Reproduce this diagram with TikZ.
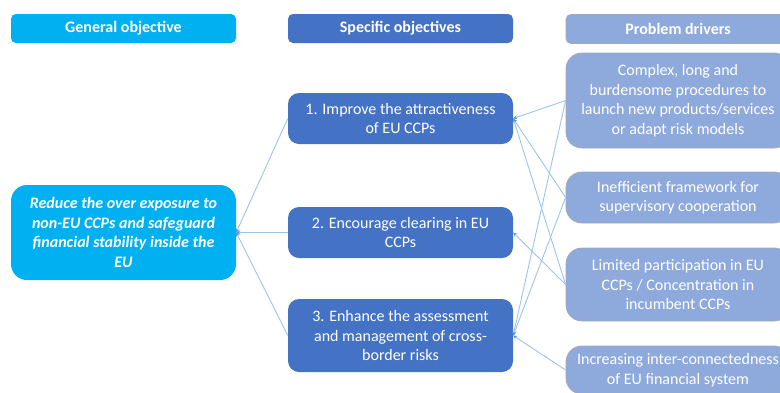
\documentclass[tikz,border=0pt]{standalone}
\usepackage{fontspec}
\setmainfont{Carlito}
\usetikzlibrary{arrows.meta}
\definecolor{genblue}{RGB}{0,176,240}
\definecolor{specblue}{RGB}{68,114,196}
\definecolor{probblue}{RGB}{142,169,219}
\definecolor{probedge}{RGB}{160,170,190}
\definecolor{linkblue}{RGB}{157,195,230}
\definecolor{tipblue}{RGB}{91,155,213}
\begin{document}
\begin{tikzpicture}[x=1pt,y=-1pt]
  \tikzset{ box/.style={white,align=center,inner sep=0pt,minimum width=225pt,
      font=\fontsize{16}{19.5}\selectfont},
    head/.style={box,font=\fontsize{16}{19.5}\selectfont\bfseries,minimum height=29pt,rounded corners=5pt},
    gen/.style={box,fill=genblue,rounded corners=16pt},
    spec/.style={box,fill=specblue,rounded corners=11pt},
    prob/.style={box,fill=probblue,draw=probedge,line width=0.8pt,minimum width=224pt,rounded corners=16pt},
    link/.style={draw=linkblue,line width=0.9pt,-{Stealth[length=4pt,width=4pt,color=tipblue]}},
  }
  \useasboundingbox (0,0) rectangle (780,392);
  \clip (0,0) rectangle (780,392);

  % column titles
  \node[head,fill=genblue] (hgen) at (123.5,28.5) {General objective};
  \node[head,fill=specblue] (hspec) at (400.5,28.5) {Specific objectives};
  \node[head,fill=probblue,draw=probedge,line width=0.8pt,minimum width=224pt] (hprob) at (678,29) {Problem drivers};

  \node[gen,minimum height=95pt,font=\fontsize{16}{19.5}\selectfont\bfseries\itshape] (gen) at (123.5,232.5)
    {Reduce the over exposure to\\non-EU CCPs and safeguard\\financial stability inside the\\EU};

  \node[spec,minimum height=51pt] (so1) at (400.5,118.5) {1. Improve the attractiveness\\of EU CCPs};
  \node[spec,minimum height=51pt] (so2) at (400.5,232.5) {2. Encourage clearing in EU\\CCPs};
  \node[spec,minimum height=73pt] (so3) at (400.5,335.5) {3. Enhance the assessment\\and management of cross-\\border risks};

  \node[prob,minimum height=95pt] (pd1) at (678,100.5)
    {Complex, long and\\burdensome procedures to\\launch new products/services\\or adapt risk models};
  \node[prob,minimum height=51pt] (pd2) at (678,197.5) {Inefficient framework for\\supervisory cooperation};
  \node[prob,minimum height=73pt] (pd3) at (678,284.5) {Limited participation in EU\\CCPs / Concentration in\\incumbent CCPs};
  \node[prob,minimum height=48pt] (pd4) at (678,370) {Increasing inter-connectedness\\of EU financial system};

  % objectives to general objective
  \foreach \s in {so1,so2,so3}
    \draw[link] (\s.west) -- (gen.east);

  % drivers to objectives
  \draw[link] (pd1.west) -- (so1.east);
  \draw[link] (pd1.west) -- (so3.east);
  \draw[link] (pd2.west) -- (so1.east);
  \draw[link] (pd2.west) -- (so3.east);
  \draw[link] (pd3.west) -- (so1.east);
  \draw[link] (pd3.west) -- (so2.east);
  \draw[link] (pd4.west) -- (so3.east);
\end{tikzpicture}
\end{document}
